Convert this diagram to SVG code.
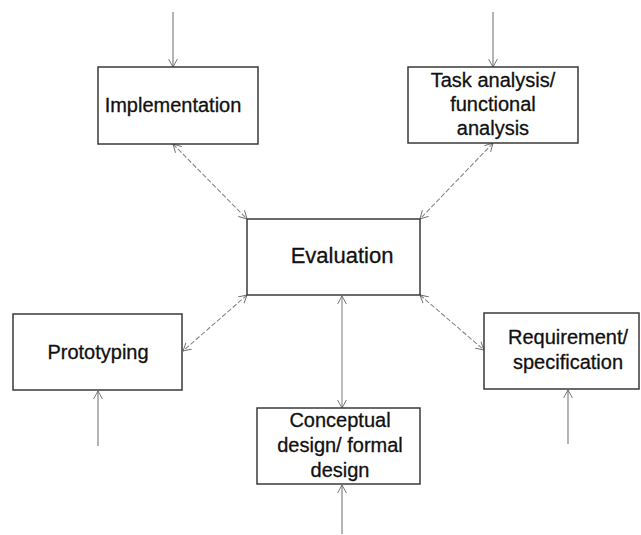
<svg xmlns="http://www.w3.org/2000/svg" width="641" height="535" viewBox="0 0 641 535">
  <style>
    .box { fill: #ffffff; stroke: #3a3a3a; stroke-width: 1.5; }
    .label { font-family: "Liberation Sans", Arial, sans-serif; font-size: 20px; fill: #111111; stroke: #111111; stroke-width: 0.3; text-anchor: middle; }
    .feed { stroke: #777777; stroke-width: 1.1; fill: none; marker-end: url(#head); }
    .link { stroke: #888888; stroke-width: 1.1; fill: none; stroke-dasharray: 5 2; marker-start: url(#head); marker-end: url(#head); }
  </style>
  <defs>
    <marker id="head" viewBox="0 0 10 12" refX="10" refY="6" markerWidth="8" markerHeight="10" markerUnits="userSpaceOnUse" orient="auto-start-reverse">
      <path d="M0,0.5 L10,6 L0,11.5" fill="none" stroke="#666666" stroke-width="1.1"/>
    </marker>
  </defs>
  <rect width="641" height="535" fill="#ffffff"/>

  <g id="connectors">
    <!-- incoming feeds -->
    <line class="feed" x1="173" y1="12" x2="173" y2="67"/>
    <line class="feed" x1="493" y1="12" x2="493" y2="67"/>
    <line class="feed" x1="98" y1="446" x2="98" y2="391"/>
    <line class="feed" x1="568" y1="444" x2="568" y2="390"/>
    <line class="feed" x1="342" y1="534" x2="342" y2="485"/>
    <!-- links to and from Evaluation -->
    <line class="link" x1="173" y1="144" x2="247" y2="219"/>
    <line class="link" x1="493" y1="143" x2="420" y2="219"/>
    <line class="link" x1="247" y1="295" x2="183" y2="351"/>
    <line class="link" x1="420" y1="295" x2="484" y2="350"/>
    <line class="link" x1="342" y1="296" x2="342" y2="408" style="stroke-dasharray:none"/>
  </g>

  <g id="implementation">
    <rect class="box" x="98" y="67" width="160" height="77"/>
    <text class="label" x="173" y="112">Implementation</text>
  </g>

  <g id="task-analysis">
    <rect class="box" x="408" y="67" width="170" height="76"/>
    <text class="label" x="493" y="87">Task analysis/</text>
    <text class="label" x="493" y="111">functional</text>
    <text class="label" x="493" y="135">analysis</text>
  </g>

  <g id="evaluation">
    <rect class="box" x="247" y="219" width="173" height="76"/>
    <text class="label" x="342" y="263" style="font-size:22px">Evaluation</text>
  </g>

  <g id="prototyping">
    <rect class="box" x="13" y="314" width="169" height="76"/>
    <text class="label" x="98" y="359">Prototyping</text>
  </g>

  <g id="requirement">
    <rect class="box" x="484" y="313" width="155" height="76"/>
    <text class="label" x="568" y="344">Requirement/</text>
    <text class="label" x="568" y="369">specification</text>
  </g>

  <g id="conceptual-design">
    <rect class="box" x="257" y="408" width="163" height="76"/>
    <text class="label" x="340" y="427">Conceptual</text>
    <text class="label" x="340" y="452">design/ formal</text>
    <text class="label" x="340" y="477">design</text>
  </g>
</svg>
